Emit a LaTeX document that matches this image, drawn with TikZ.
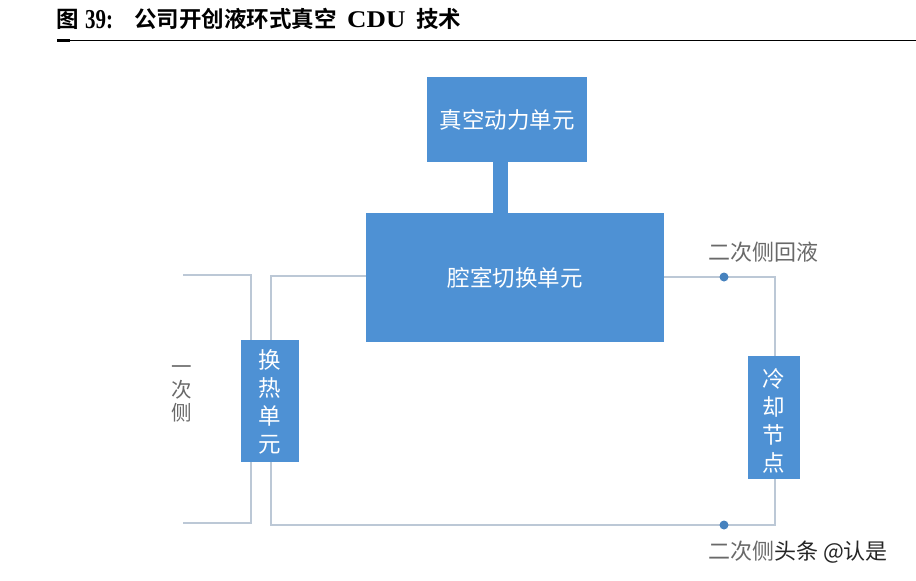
\documentclass[tikz,border=0pt]{standalone}
\usepackage{fontspec}
\setmainfont{Liberation Serif}
\newfontfamily\cjk{Noto Sans CJK SC}
\newfontfamily\cjkb{Noto Sans CJK SC Bold}
\definecolor{boxblue}{RGB}{78,145,212}
\definecolor{pipe}{RGB}{188,200,214}
\definecolor{dotblue}{RGB}{70,130,190}
\definecolor{labelgray}{RGB}{105,105,105}
\tikzset{
  unit/.style={fill=boxblue, draw=none, inner sep=0pt, text=white, font=\cjk\fontsize{22.5}{28}\selectfont, align=center},
  pipeline/.style={draw=pipe, line width=1.6pt},
  lbl/.style={text=labelgray, font=\cjk\fontsize{22}{22}\selectfont, inner sep=0pt, align=center},
  junction/.style={circle, fill=dotblue, inner sep=0pt, minimum size=9pt},
  ttl/.style={anchor=base west, inner sep=0pt, font=\cjkb\fontsize{22.5}{26}\selectfont},
}
\begin{document}
\begin{tikzpicture}[x=1pt,y=-1pt]
\useasboundingbox (0,0) rectangle (916,581);
% title
\node[ttl] (t1) at (56,27) {图};
\node[ttl, font=\bfseries\fontsize{21}{26}\selectfont] (t2) at (85,28) {\scalebox{1}[1.3]{39:}};
\node[ttl] (t3) at (134,27) {公司开创液环式真空};
\node[ttl, font=\bfseries\fontsize{24}{26}\selectfont] (t4) at (347,27) {\scalebox{1.12}[1]{CDU}};
\node[ttl] (t5) at (416,27) {技术};
\draw[line width=1pt] (57,40.5) -- (916,40.5);
\draw[line width=2.5pt] (57,40.5) -- (70,40.5);
% stem
\fill[boxblue] (493,160) rectangle (508,214);
% boxes
\node[unit, minimum width=160pt, minimum height=85pt] (vac) at (507,119.5) {真空动力单元};
\node[unit, minimum width=298pt, minimum height=129pt] (cham) at (515,277) {};
\node[unit] at (515,278) {腔室切换单元};
% pipes
\coordinate (p1) at (183,275);
\coordinate (p2) at (251,275);
\coordinate (p3) at (251,523);
\coordinate (p4) at (183,523);
\coordinate (q1) at (271,276);
\coordinate (q2) at (271,525);
\coordinate (r1) at (775,277);
\coordinate (r2) at (775,525);
\draw[pipeline] (p1) -- (p2) -- (p3) -- (p4);
\draw[pipeline] (cham.west |- q1) -- (q1) -- (q2) -- (r2) -- (r1) -- (cham.east |- r1);
% heat exchanger and cooling node
\node[unit, minimum width=58pt, minimum height=122pt] (hx) at (270,401) {};
\node[unit] at (270,402) {换\\热\\单\\元};
\node[unit, minimum width=52pt, minimum height=123pt] (cool) at (774,417) {};
\node[unit] at (774,421) {冷\\却\\节\\点};
% junction dots
\node[junction] (d1) at (724,277) {};
\node[junction] (d2) at (724,525) {};
% labels
\node[lbl, font=\cjk\fontsize{20.5}{23}\selectfont] (prim) at (182,394) {一\\次\\侧};
\node[lbl, anchor=west] (ret) at (708,252) {二次侧回液};
\node[lbl, anchor=west] (sup) at (708,552) {二次侧{\color{black!85}头条 @认是}};
\end{tikzpicture}
\end{document}
